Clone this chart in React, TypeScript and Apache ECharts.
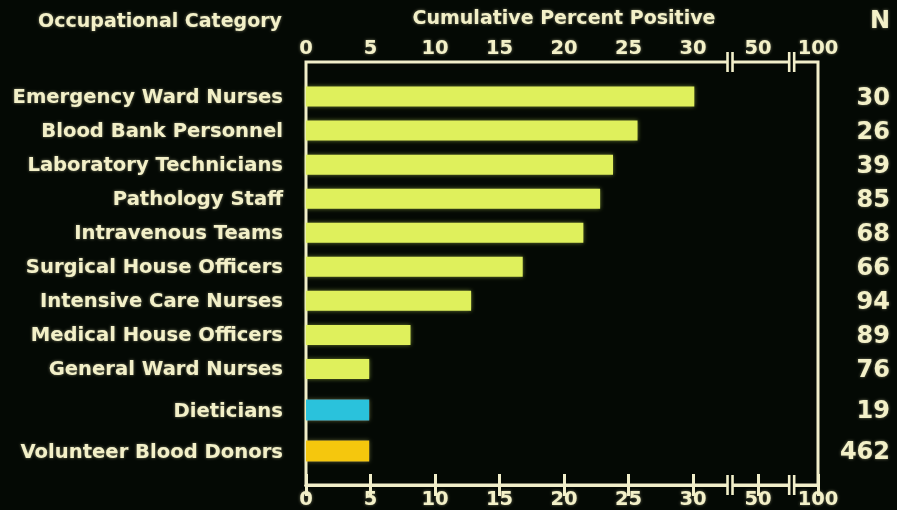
import React, { useEffect, useRef } from 'react';
import * as echarts from 'echarts';

// ---------- data ----------
const upperCategories = [
  'Emergency Ward Nurses',
  'Blood Bank Personnel',
  'Laboratory Technicians',
  'Pathology Staff',
  'Intravenous Teams',
  'Surgical House Officers',
  'Intensive Care Nurses',
  'Medical House Officers',
  'General Ward Nurses',
];
const upperValues = [30.1, 25.7, 23.8, 22.8, 21.5, 16.8, 12.8, 8.1, 4.9];
const upperN = ['30', '26', '39', '85', '68', '66', '94', '89', '76'];

const lowerCategories = ['Dieticians', 'Volunteer Blood Donors'];
const lowerValues = [4.9, 4.9];
const lowerN = ['19', '462'];

// axis ticks (linear part 0..30, then compressed part beyond the breaks)
const linearTicks = [0, 5, 10, 15, 20, 25, 30];
const compressedTickLabels = ['50', '100'];
const compressedTickValues = [35.04, 39.69];
const breakMarks = [32.87, 37.65];
const axisMax = 39.69;

// ---------- styles ----------
const BG = '#040904';
const LINE = '#f1eec9';
const TEXT = '#f3f0c8';
const BAR = '#dff05c';
const LOWER_COLORS = ['#2cc2dc', '#f5c70e'];
const FONT = '"DejaVu Sans", "Liberation Sans", Arial, sans-serif';

const textGlow = {
  textShadowColor: 'rgba(255,250,200,0.45)',
  textShadowBlur: 3,
};

const allTickValues = [...linearTicks, ...compressedTickValues];
const fmt = (v: number) => {
  for (let i = 0; i < compressedTickValues.length; i++) {
    if (Math.abs(v - compressedTickValues[i]) < 0.01) return compressedTickLabels[i];
  }
  return String(Math.round(v));
};

const frameXAxis = (position: 'top' | 'bottom', margin: number) => ({
  gridIndex: 0,
  type: 'value',
  position,
  min: 0,
  max: axisMax,
  axisLine: { show: true, lineStyle: { color: LINE, width: 3 } },
  axisTick: {
    show: true,
    inside: true,
    length: 11,
    customValues: allTickValues,
    lineStyle: { color: LINE, width: 3 },
  },
  axisLabel: {
    show: true,
    customValues: allTickValues,
    showMinLabel: true,
    showMaxLabel: true,
    formatter: fmt,
    color: TEXT,
    fontSize: 19.5,
    fontWeight: 'bold',
    fontFamily: FONT,
    margin,
    ...textGlow,
  },
  splitLine: { show: false },
});

const hiddenXAxis = (gridIndex: number) => ({
  gridIndex,
  type: 'value',
  min: 0,
  max: axisMax,
  show: false,
});

const catAxis = (gridIndex: number, data: string[]) => ({
  gridIndex,
  type: 'category',
  inverse: true,
  position: 'left',
  data,
  axisLine: { show: false },
  axisTick: { show: false },
  axisLabel: {
    color: TEXT,
    fontSize: 19.6,
    fontWeight: 'bold',
    fontFamily: FONT,
    margin: 23,
    ...textGlow,
  },
});

const nAxis = (gridIndex: number, data: string[]) => ({
  gridIndex,
  type: 'category',
  inverse: true,
  position: 'right',
  data,
  axisLine: { show: false },
  axisTick: { show: false },
  axisLabel: {
    color: TEXT,
    fontSize: 24,
    fontWeight: 'bold',
    fontFamily: FONT,
    align: 'right',
    margin: 72,
    ...textGlow,
  },
});

export default function App() {
  const ref = useRef<HTMLDivElement>(null);
  useEffect(() => {
    document.body.style.margin = '0';
    const chart = echarts.init(ref.current!, null, { renderer: 'svg' });
    const option: any = {
      animation: false,
      backgroundColor: BG,
      grid: [
        { left: 306, top: 62, width: 512, height: 423, show: true, borderColor: LINE, borderWidth: 3, backgroundColor: 'transparent' },
        { left: 306, top: 79.5, width: 512, height: 306.5 },
        { left: 306, top: 389.5, width: 512, height: 82 },
      ],
      xAxis: [
        frameXAxis('top', 5),
        frameXAxis('bottom', 3),
        hiddenXAxis(1),
        hiddenXAxis(2),
      ],
      yAxis: [
        catAxis(1, upperCategories),
        nAxis(1, upperN),
        catAxis(2, lowerCategories),
        nAxis(2, lowerN),
        { gridIndex: 0, type: 'value', min: 0, max: 1, show: false },
      ],
      graphic: [
        {
          type: 'text',
          x: 282,
          y: 20,
          style: {
            text: 'Occupational Category',
            fill: TEXT,
            font: `bold 19px ${FONT}`,
            textAlign: 'right',
            textVerticalAlign: 'middle',
            ...textGlow,
          },
        },
        {
          type: 'text',
          x: 564,
          y: 17,
          style: {
            text: 'Cumulative Percent Positive',
            fill: TEXT,
            font: `bold 19px ${FONT}`,
            textAlign: 'center',
            textVerticalAlign: 'middle',
            ...textGlow,
          },
        },
        {
          type: 'text',
          x: 890,
          y: 20,
          style: {
            text: 'N',
            fill: TEXT,
            font: `bold 24px ${FONT}`,
            textAlign: 'right',
            textVerticalAlign: 'middle',
            ...textGlow,
          },
        },
      ],
      series: [
        {
          type: 'bar',
          xAxisIndex: 2,
          yAxisIndex: 0,
          data: upperValues,
          barWidth: 20,
          itemStyle: { color: BAR, shadowColor: 'rgba(210,240,90,0.5)', shadowBlur: 4 },
          silent: true,
        },
        {
          type: 'bar',
          xAxisIndex: 3,
          yAxisIndex: 2,
          data: lowerValues.map((v, i) => ({ value: v, itemStyle: { color: LOWER_COLORS[i] } })),
          barWidth: 21,
          itemStyle: { shadowColor: 'rgba(220,220,120,0.4)', shadowBlur: 4 },
          silent: true,
        },
        {
          type: 'custom',
          xAxisIndex: 0,
          yAxisIndex: 4,
          data: breakMarks.map((v) => [v]),
          silent: true,
          z: 10,
          renderItem: (params: any, api: any) => {
            const v = api.value(0);
            const pBottom = api.coord([v, 0]);
            const pTop = api.coord([v, 1]);
            const x = pBottom[0];
            const children: any[] = [];
            for (const y of [pTop[1], pBottom[1]]) {
              children.push({ type: 'rect', shape: { x: x - 2, y: y - 3, width: 4, height: 6 }, style: { fill: BG } });
              children.push({ type: 'line', shape: { x1: x - 2.5, y1: y - 10, x2: x - 2.5, y2: y + 10 }, style: { stroke: LINE, lineWidth: 2.6 } });
              children.push({ type: 'line', shape: { x1: x + 2.5, y1: y - 10, x2: x + 2.5, y2: y + 10 }, style: { stroke: LINE, lineWidth: 2.6 } });
            }
            return { type: 'group', children };
          },
        },
      ],
    };
    chart.setOption(option);
    return () => chart.dispose();
  }, []);
  return (
    <div
      ref={ref}
      style={{ position: 'fixed', left: 0, top: 0, width: 897, height: 510, background: BG }}
    />
  );
}
